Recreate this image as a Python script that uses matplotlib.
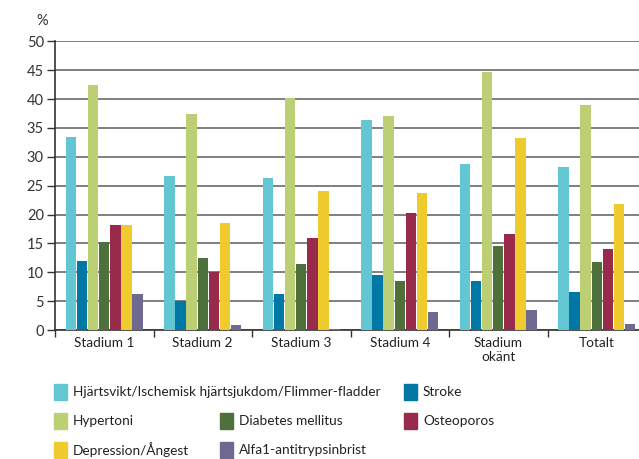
import matplotlib
matplotlib.use("Agg")
import matplotlib.pyplot as plt
from matplotlib.patches import Rectangle
import numpy as np

plt.rcParams['font.family'] = ['Lato', 'DejaVu Sans']

categories = ["Stadium 1", "Stadium 2", "Stadium 3", "Stadium 4", "Stadium\nokänt", "Totalt"]
series_names = [
    "Hjärtsvikt/Ischemisk hjärtsjukdom/Flimmer-fladder",
    "Stroke",
    "Hypertoni",
    "Diabetes mellitus",
    "Osteoporos",
    "Depression/Ångest",
    "Alfa1-antitrypsinbrist",
]
hjartsvikt = [33.4, 26.6, 26.4, 36.3, 28.7, 28.2]
stroke = [12.0, 5.1, 6.3, 9.6, 8.4, 6.5]
hypertoni = [42.4, 37.4, 40.2, 37.0, 44.7, 38.9]
diabetes = [15.2, 12.4, 11.5, 8.4, 14.6, 11.7]
osteoporos = [18.1, 10.1, 16.0, 20.2, 16.7, 14.1]
depression = [18.1, 18.5, 24.0, 23.7, 33.2, 21.9]
alfa1 = [6.3, 0.9, 0.2, 3.2, 3.4, 1.1]
yticks = list(range(0, 51, 5))

values = [hjartsvikt, stroke, hypertoni, diabetes, osteoporos, depression, alfa1]
colors = ["#63c6d3", "#0077a5", "#bccf74", "#4e713b", "#982a4c", "#f0cb2e", "#6e6a8f"]

FS = 9.8

fig = plt.figure(figsize=(6.39, 4.59), dpi=100)
ax = fig.add_axes([55/639, 1-330/459, 591/639, (330-41.3)/459])

x = np.arange(len(categories))
step = 0.112
for i, (vals, c) in enumerate(zip(values, colors)):
    ax.bar(x + (i - 3) * step, vals, width=step - 0.006, color=c, zorder=3)

ax.set_xlim(-0.5, len(categories) - 0.5)
ax.set_ylim(0, 50)
ax.set_yticks(yticks)
ax.set_yticklabels([str(t) for t in yticks], fontsize=FS + 0.7, color="#333333")
ax.yaxis.grid(True, color="#6a6a6a", linewidth=1.2, zorder=0)
ax.set_axisbelow(True)

ax.set_xticks(x)
ax.set_xticklabels(categories, fontsize=FS, color="#222222", linespacing=1.25)
ax.tick_params(axis="x", which="major", length=0, pad=5)
ax.set_xticks(np.arange(-0.5, len(categories) - 0.4, 1.0), minor=True)
ax.tick_params(axis="x", which="minor", length=5, width=1, color="#333333", direction="out")
ax.tick_params(axis="y", length=6, width=1, color="#333333", pad=2)

for s in ["top", "right"]:
    ax.spines[s].set_visible(False)
ax.spines["left"].set_color("#333333")
ax.spines["left"].set_linewidth(1.2)
ax.spines["bottom"].set_color("#333333")
ax.spines["bottom"].set_linewidth(1.2)

fig.text(36/639, 1-21/459, "%", fontsize=FS + 0.7, color="#333333", va="center", ha="left")

# legend laid out in three columns
legend_pos = [(54, 392), (404, 392), (54, 421), (220, 421), (404, 421), (54, 450), (220, 450)]
for name, c, (px, py) in zip(series_names, colors, legend_pos):
    fig.patches.append(Rectangle((px/639, (459-py-8)/459), 13/639, 16/459,
                                 transform=fig.transFigure, color=c))
    fig.text((px + 19)/639, (459-py)/459, name, fontsize=FS, color="#222222",
             va="center", ha="left")

fig.savefig("out.png", dpi=100)
